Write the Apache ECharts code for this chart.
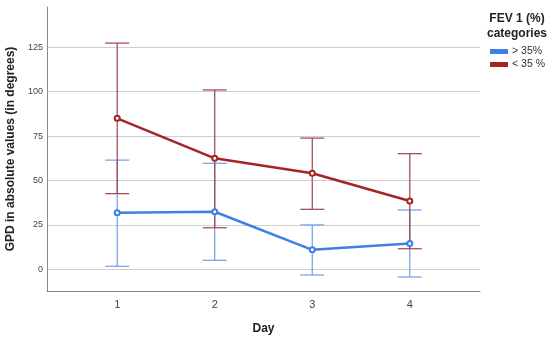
<!DOCTYPE html>
<html><head><meta charset="utf-8">
<script src="https://cdn.jsdelivr.net/npm/echarts@6/dist/echarts.min.js"></script>
<style>html,body{margin:0;padding:0;background:#fff}#c{width:550px;height:340px}</style>
</head><body><div id="c"></div>
<script>
var days = [1, 2, 3, 4];
var yTicks = [0, 25, 50, 75, 100, 125];
var seriesNames = ['> 35%', '< 35 %'];
var highMean = [31.8, 32.4, 11.0, 14.6];
var highUpper = [61.5, 59.7, 25.0, 33.4];
var highLower = [1.7, 5.1, -3.2, -4.3];
var lowMean = [85.0, 62.5, 54.1, 38.5];
var lowUpper = [127.4, 101.0, 73.9, 65.1];
var lowLower = [42.6, 23.4, 33.8, 11.6];

var FONT = 'Liberation Sans, Arial, sans-serif';
var chart = echarts.init(document.getElementById('c'));

function errSeries(upper, lower, color) {
  var data = days.map(function (d, i) { return [d, lower[i], upper[i]]; });
  return {
    type: 'custom', silent: true, z: 1,
    data: data,
    encode: { x: 0, y: [1, 2] },
    renderItem: function (params, api) {
      var x = api.value(0);
      var lo = api.coord([x, api.value(1)]);
      var hi = api.coord([x, api.value(2)]);
      var hw = 12;
      var st = { stroke: color, lineWidth: 1.2 };
      return { type: 'group', children: [
        { type: 'line', shape: { x1: lo[0], y1: lo[1], x2: hi[0], y2: hi[1] }, style: st },
        { type: 'line', shape: { x1: lo[0] - hw, y1: lo[1], x2: lo[0] + hw, y2: lo[1] }, style: st },
        { type: 'line', shape: { x1: hi[0] - hw, y1: hi[1], x2: hi[0] + hw, y2: hi[1] }, style: st }
      ]};
    }
  };
}

function lineSeries(name, vals, color) {
  return {
    name: name, type: 'line', z: 3,
    data: days.map(function (d, i) { return [d, vals[i]]; }),
    symbol: 'emptyCircle', symbolSize: 5,
    lineStyle: { color: color, width: 2.5 },
    itemStyle: { color: color, borderColor: color, borderWidth: 1 },
    animation: false
  };
}

chart.setOption({
  animation: false,
  grid: { left: 47, right: 70, top: 7, bottom: 49, containLabel: false, outerBoundsMode: 'none' },
  graphic: [{
    type: 'text', x: 517, y: 11,
    style: { text: 'FEV 1 (%)\ncategories', font: 'bold 12px ' + FONT, fill: '#222', align: 'center', textAlign: 'center', lineHeight: 15 }
  }],
  legend: {
    orient: 'vertical', left: 485, top: 41, itemGap: 2,
    itemWidth: 16, itemHeight: 3, icon: 'rect',
    textStyle: { fontFamily: FONT, fontSize: 10.5, color: '#333' },
    data: [{ name: seriesNames[0], itemStyle: { color: '#3f7fe6' } }, { name: seriesNames[1], itemStyle: { color: '#a52525' } }]
  },
  xAxis: {
    type: 'value', min: 0.28, max: 4.72,
    name: 'Day', nameLocation: 'middle', nameGap: 32,
    nameTextStyle: { fontFamily: FONT, fontSize: 12, fontWeight: 'bold', color: '#222' },
    axisLine: { show: true, onZero: false, lineStyle: { color: '#888', width: 1 } },
    axisTick: { show: false, customValues: days },
    axisLabel: { customValues: days, fontFamily: FONT, fontSize: 11, color: '#444', margin: 8 },
    splitLine: { show: false }
  },
  yAxis: {
    type: 'value', min: -12.2, max: 147.7,
    name: 'GPD in absolute values (in degrees)', nameLocation: 'middle', nameGap: 25,
    nameTextStyle: { fontFamily: FONT, fontSize: 12, fontWeight: 'bold', color: '#222' },
    axisLine: { show: true, onZero: false, lineStyle: { color: '#888', width: 1 } },
    axisTick: { show: false, customValues: yTicks },
    axisLabel: { customValues: yTicks, fontFamily: FONT, fontSize: 9, color: '#444', margin: 4 },
    splitLine: { show: true, lineStyle: { color: '#cfcfcf', width: 1 } }
  },
  series: [
    errSeries(highUpper, highLower, '#6f9ee8'),
    errSeries(lowUpper, lowLower, '#a0404c'),
    lineSeries(seriesNames[0], highMean, '#3f7fe6'),
    lineSeries(seriesNames[1], lowMean, '#a52525')
  ]
});
</script></body></html>
